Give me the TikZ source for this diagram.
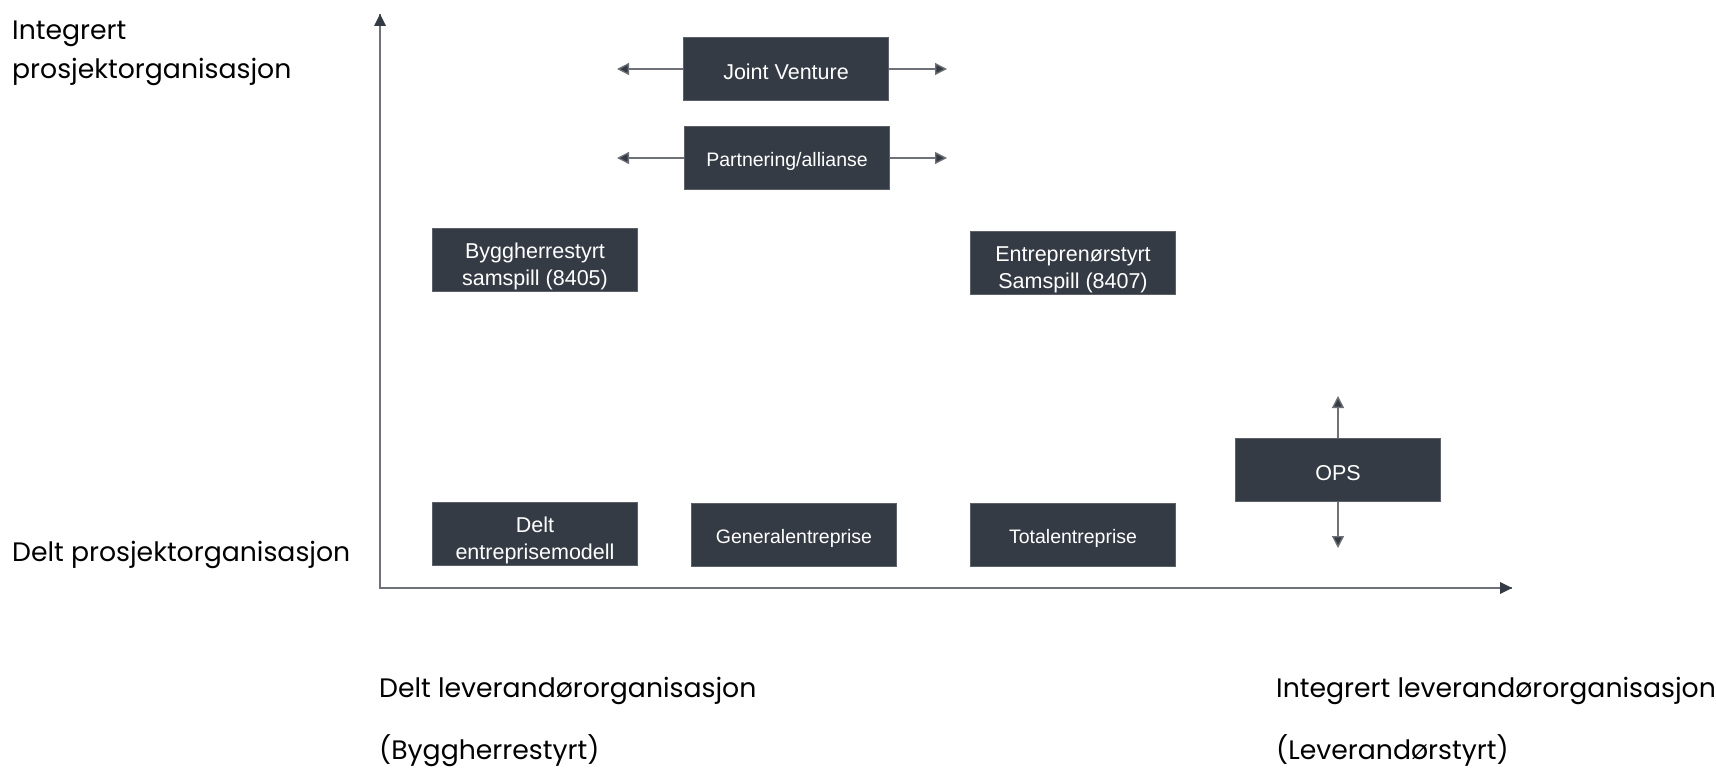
\documentclass[tikz,border=0pt]{standalone}
\usepackage{fontspec}
\setmainfont{Poppins}
\newfontfamily\boxfont{Liberation Sans}
\usetikzlibrary{arrows.meta}
\definecolor{boxfill}{HTML}{353B45}
\definecolor{boxline}{HTML}{5C6169}
\definecolor{axisline}{HTML}{6E7278}
\begin{document}
\begin{tikzpicture}[x=1pt,y=-1pt,
		model/.style={draw=boxline,line width=1.2pt,fill=boxfill,text=white,inner sep=0pt,text depth=0pt,text height=20pt,
			minimum width=205pt,minimum height=63pt,align=center,font=\boxfont\fontsize{21.5}{27.5}\selectfont},
		smallmodel/.style={model,text height=17pt,font=\boxfont\fontsize{19.5}{27}\selectfont},
		twomodel/.style={model,text height=51pt},
		spread/.style={draw=axisline,line width=1.3pt,-{Triangle[length=12pt,width=12pt,fill=boxfill]}},
		axislabel/.style={anchor=base west,inner sep=0pt,font=\fontsize{26.7}{38}\selectfont,text=black}]
		\useasboundingbox (0,0) rectangle (1716,768);
		\coordinate (origin) at (380,588);
		\coordinate (ytop) at (380,14);
		\coordinate (xend) at (1512,588);
		\draw [axisline,line width=1.6pt] (ytop) -- (origin) -- (xend);
		\fill [boxfill] (ytop) -- ++(-6,12) -- ++(12,0) -- cycle;
		\fill [boxfill] (xend) -- ++(-12,-6) -- ++(0,12) -- cycle;
		\node (jv) [model] at (786,69) {Joint Venture};
		\node (part) [smallmodel] at (787,158) {Partnering/allianse};
		\node (bygg) [twomodel] at (535,260) {Byggherrestyrt\\samspill (8405)};
		\node (entr) [twomodel] at (1073,263) {Entreprenørstyrt\\Samspill (8407)};
		\node (ops) [model] at (1338,470) {OPS};
		\node (delt) [twomodel] at (535,534) {Delt\\entreprisemodell};
		\node (gen) [smallmodel] at (794,535) {Generalentreprise};
		\node (tot) [smallmodel] at (1073,535) {Totalentreprise};
		\coordinate (jvl) at (617,69);
		\coordinate (jvr) at (947,69);
		\coordinate (partl) at (617,158);
		\coordinate (partr) at (947,158);
		\coordinate (opsu) at (1338,396);
		\coordinate (opsd) at (1338,548);
		\draw [spread] (jv.west) -- (jvl);
		\draw [spread] (jv.east) -- (jvr);
		\draw [spread] (part.west) -- (partl);
		\draw [spread] (part.east) -- (partr);
		\draw [spread] (ops.north) -- (opsu);
		\draw [spread] (ops.south) -- (opsd);
		\node (intproj) [axislabel] at (12,40) {Integrert};
		\node (intproj2) [axislabel] at (12,78) {prosjektorganisasjon};
		\node (deltproj) [axislabel] at (12,561) {Delt prosjektorganisasjon};
		\node (deltlev) [axislabel] at (379,697) {Delt leverandørorganisasjon};
		\node (bygglev) [axislabel] at (379,759) {(Byggherrestyrt)};
		\node (intlev) [axislabel] at (1276,697) {Integrert leverandørorganisasjon};
		\node (levlev) [axislabel] at (1276,759) {(Leverandørstyrt)};
	\end{tikzpicture}
\end{document}
